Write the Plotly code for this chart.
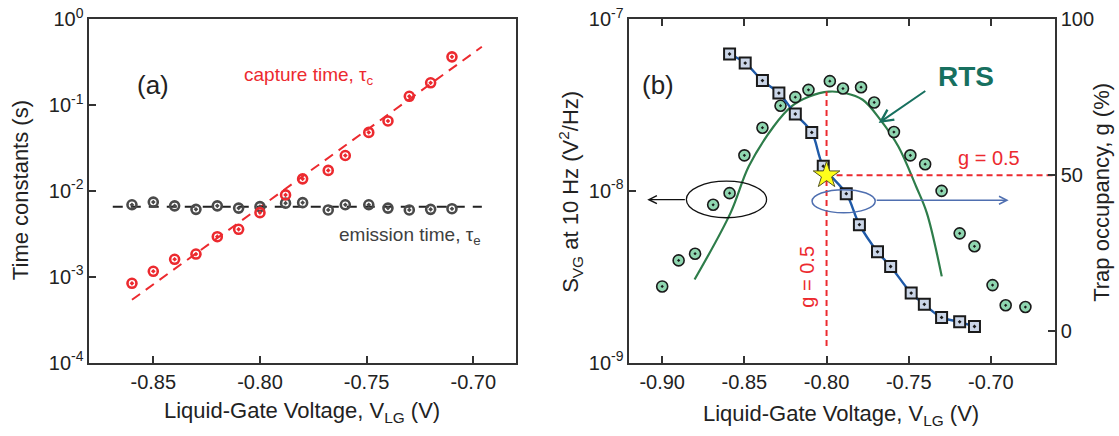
import plotly.graph_objects as go

# ---------------- Panel (a) data ----------------
vlg_a = [-0.860, -0.850, -0.840, -0.830, -0.820, -0.810, -0.800, -0.788,
         -0.780, -0.768, -0.760, -0.749, -0.740, -0.730, -0.720, -0.710]
tau_c = [8.4e-4, 1.16e-3, 1.6e-3, 1.84e-3, 2.93e-3, 3.57e-3, 5.58e-3, 8.98e-3,
         1.38e-2, 1.73e-2, 2.58e-2, 4.79e-2, 6.5e-2, 0.126, 0.181, 0.363]
tau_e = [6.9e-3, 7.4e-3, 6.7e-3, 6.1e-3, 6.7e-3, 6.3e-3, 6.55e-3, 7.2e-3,
         7.3e-3, 6.0e-3, 6.9e-3, 6.9e-3, 6.3e-3, 6.0e-3, 6.1e-3, 6.2e-3]
fit_c_x = [-0.860, -0.696]
fit_c_y = [5.4e-4, 0.475]
fit_e_x = [-0.869, -0.696]
fit_e_y = [6.55e-3, 6.55e-3]

# ---------------- Panel (b) data ----------------
vlg_sq = [-0.859, -0.8495, -0.839, -0.829, -0.819, -0.809, -0.802, -0.788,
          -0.780, -0.769, -0.761, -0.7485, -0.7405, -0.730, -0.719, -0.710]
g_sq = [88.8, 85.9, 80.3, 76.3, 69.6, 63.7, 52.9, 44.1,
        34.2, 25.5, 20.8, 12.3, 8.7, 4.5, 3.1, 1.6]

vlg_circ = [-0.900, -0.890, -0.880, -0.869, -0.859, -0.850, -0.839, -0.828,
            -0.819, -0.811, -0.798, -0.790, -0.779, -0.771, -0.759, -0.749,
            -0.740, -0.730, -0.719, -0.710, -0.699, -0.691, -0.679]
svg_circ = [2.78e-9, 3.94e-9, 4.31e-9, 8.3e-9, 9.7e-9, 1.61e-8, 2.33e-8, 3.13e-8,
            3.51e-8, 3.87e-8, 4.35e-8, 3.94e-8, 4.01e-8, 3.27e-8, 2.2e-8, 1.61e-8,
            1.43e-8, 1.0e-8, 5.66e-9, 4.76e-9, 2.83e-9, 2.16e-9, 2.11e-9]

rts_x = [-0.8803, -0.8584, -0.8473, -0.8322, -0.8213, -0.8105, -0.7986,
         -0.7888, -0.7780, -0.7672, -0.7563, -0.7455, -0.7390, -0.7299]
rts_y = [3.05e-9, 7.45e-9, 1.39e-8, 2.37e-8, 3.10e-8, 3.54e-8, 3.78e-8,
         3.71e-8, 3.39e-8, 2.59e-8, 1.81e-8, 1.06e-8, 7.45e-9, 3.18e-9]

g_half_v_x = [-0.80, -0.80]
g_half_v_y = [-4.6, 76.8]
g_half_h_x = [-0.80, -0.661]
g_half_h_y = [50, 50]
star_x = [-0.80]
star_y = [50]

xticks_a = [-0.85, -0.80, -0.75, -0.70]
xticks_b = [-0.90, -0.85, -0.80, -0.75, -0.70]
yticks_a = [1e-4, 1e-3, 1e-2, 1e-1, 1]
yticks_a_txt = ["10<sup>-4</sup>", "10<sup>-3</sup>", "10<sup>-2</sup>", "10<sup>-1</sup>", "10<sup>0</sup>"]
yticks_b = [1e-9, 1e-8, 1e-7]
yticks_b_txt = ["10<sup>-9</sup>", "10<sup>-8</sup>", "10<sup>-7</sup>"]
yticks_g = [0, 50, 100]

RED = "#ec2a2f"
GRAY = "#4a4a4a"
FONT = "Liberation Sans, Arial, sans-serif"

fig = go.Figure()

# Panel (a)
fig.add_trace(go.Scatter(x=fit_c_x, y=fit_c_y, mode="lines", xaxis="x", yaxis="y",
                         line=dict(color=RED, width=2, dash="10px,7px"), showlegend=False))
fig.add_trace(go.Scatter(x=fit_e_x, y=fit_e_y, mode="lines", xaxis="x", yaxis="y",
                         line=dict(color="#222222", width=2, dash="10px,8px"), showlegend=False))
fig.add_trace(go.Scatter(x=vlg_a, y=tau_e, mode="markers", xaxis="x", yaxis="y",
                         marker=dict(symbol="circle-open-dot", size=9, color=GRAY,
                                     line=dict(color=GRAY, width=2.6)), showlegend=False))
fig.add_trace(go.Scatter(x=vlg_a, y=tau_c, mode="markers", xaxis="x", yaxis="y",
                         marker=dict(symbol="circle-open-dot", size=9, color=RED,
                                     line=dict(color=RED, width=2.6)), showlegend=False))

# Panel (b)
fig.add_trace(go.Scatter(x=rts_x, y=rts_y, mode="lines", xaxis="x2", yaxis="y2",
                         line=dict(color="#2e7d4a", width=2.2, shape="spline"), showlegend=False))
fig.add_trace(go.Scatter(x=vlg_circ, y=svg_circ, mode="markers", xaxis="x2", yaxis="y2",
                         marker=dict(symbol="circle-dot", size=11, color="#8fd6b0",
                                     line=dict(color="#1a1a1a", width=1.6)), showlegend=False))
fig.add_trace(go.Scatter(x=g_half_v_x, y=g_half_v_y, mode="lines", xaxis="x2", yaxis="y3",
                         line=dict(color=RED, width=2, dash="6px,4px"), showlegend=False))
fig.add_trace(go.Scatter(x=g_half_h_x, y=g_half_h_y, mode="lines", xaxis="x2", yaxis="y3",
                         line=dict(color=RED, width=2, dash="6px,4px"), showlegend=False))
fig.add_trace(go.Scatter(x=vlg_sq, y=g_sq, mode="lines", xaxis="x2", yaxis="y3",
                         line=dict(color="#1f5aa8", width=2.4, shape="spline"), showlegend=False))
fig.add_trace(go.Scatter(x=vlg_sq, y=g_sq, mode="markers", xaxis="x2", yaxis="y3",
                         marker=dict(symbol="square-dot", size=11, color="#cbd6e8",
                                     line=dict(color="#1a1a1a", width=2)), showlegend=False))
fig.add_trace(go.Scatter(x=star_x, y=star_y, mode="markers", xaxis="x2", yaxis="y3",
                         marker=dict(symbol="star", size=20, color="#ffff1a",
                                     line=dict(color="#555522", width=1)), showlegend=False))

YDOM = [0.168, 0.9564]
tickfont = dict(family=FONT, size=20, color="#222222")
common = dict(showgrid=False, zeroline=False, showline=True, linecolor="#333333",
              linewidth=1.5, ticks="inside", ticklen=7, tickwidth=1.5, tickcolor="#333333",
              tickfont=tickfont, automargin=False)

fig.update_layout(
    width=1119, height=436, margin=dict(l=0, r=0, t=0, b=0),
    paper_bgcolor="white", plot_bgcolor="white", showlegend=False,
    font=dict(family=FONT, color="#222222"),
    xaxis=dict(domain=[0.0798, 0.4611], anchor="y", range=[-0.88, -0.68],
               tickvals=xticks_a, ticktext=["%.2f" % v for v in xticks_a],
               mirror=True, **common),
    yaxis=dict(domain=YDOM, anchor="x", type="log", range=[-4, 0],
               tickvals=yticks_a, ticktext=yticks_a_txt, mirror=True, **common),
    xaxis2=dict(domain=[0.5624, 0.9428], anchor="y2", range=[-0.92, -0.661],
                tickvals=xticks_b, ticktext=["%.2f" % v for v in xticks_b],
                mirror="ticks", **common),
    yaxis2=dict(domain=YDOM, anchor="x2", type="log", range=[-9, -7],
                tickvals=yticks_b, ticktext=yticks_b_txt, **common),
    yaxis3=dict(domain=YDOM, anchor="x2", overlaying="y2", side="right", range=[-10, 100],
                tickvals=yticks_g, ticktext=[str(v) for v in yticks_g], **common),
)

ann = []
def pa(text, x, y, size, color="#222222", angle=0, bold=False, **kw):
    d = dict(text=("<b>%s</b>" % text) if bold else text, x=x, y=y, xref="paper", yref="paper",
             showarrow=False, xanchor="center", yanchor="middle", textangle=angle,
             font=dict(family=FONT, size=size, color=color))
    d.update(kw)
    ann.append(d)

def pb(text, x, y, size, color="#222222", angle=0, bold=False):
    ann.append(dict(text=("<b>%s</b>" % text) if bold else text, x=x, y=y, xref="x2", yref="y3",
                    showarrow=False, xanchor="center", yanchor="middle", textangle=angle,
                    font=dict(family=FONT, size=size, color=color)))

# axis titles
pa("Time constants (s)", 0.0179, 0.564, 22, angle=-90)
pa("Liquid-Gate Voltage, V<sub>LG</sub> (V)", 0.2703, 0.055, 22)
pa("S<sub>VG</sub> at 10 Hz (V<sup>2</sup>/Hz)", 0.5103, 0.56, 22, angle=-90)
pa("Trap occupancy, g (%)", 0.9848, 0.56, 22, angle=-90)
pa("Liquid-Gate Voltage, V<sub>LG</sub> (V)", 0.7516, 0.048, 22)

# panel a texts
pa("(a)", 0.1367, 0.805, 26)
pa("capture time, τ<sub>c</sub>", 0.2757, 0.826, 19, color=RED)
pa("emission time, τ<sub>e</sub>", 0.366, 0.458, 19, color="#404040")

# panel b texts
pb("(b)", -0.9026, 78.9, 26)
pb("RTS", -0.7152, 81.6, 28, color="#17705f", bold=True)
pb("g = 0.5", -0.7011, 55.5, 20, color=RED)
pb("g = 0.5", -0.8116, 17.7, 20, color=RED, angle=-90)

# arrows
ann.append(dict(x=-0.7683, y=66.7, ax=-0.739, ay=77.3, xref="x2", yref="y3",
                axref="x2", ayref="y3", text="", showarrow=True, arrowhead=5,
                arrowsize=1.2, arrowwidth=2, arrowcolor="#17705f"))
ann.append(dict(x=-0.9091, y=42.2, ax=-0.8853, ay=42.2, xref="x2", yref="y3",
                axref="x2", ayref="y3", text="", showarrow=True, arrowhead=5,
                arrowsize=1.2, arrowwidth=1.3, arrowcolor="#111111"))
ann.append(dict(x=-0.6892, y=42.0, ax=-0.7704, ay=42.0, xref="x2", yref="y3",
                axref="x2", ayref="y3", text="", showarrow=True, arrowhead=5,
                arrowsize=1.2, arrowwidth=1.3, arrowcolor="#4f6fb0"))
fig.update_layout(annotations=ann)

fig.update_layout(shapes=[
    dict(type="circle", xref="x2", yref="y3", x0=-0.8853, x1=-0.8365, y0=36.4, y1=48.1,
         line=dict(color="#111111", width=1.3)),
    dict(type="circle", xref="x2", yref="y3", x0=-0.8088, x1=-0.7704, y0=38.0, y1=45.4,
         line=dict(color="#4f6fb0", width=1.5)),
])

fig.write_html("out.html")
